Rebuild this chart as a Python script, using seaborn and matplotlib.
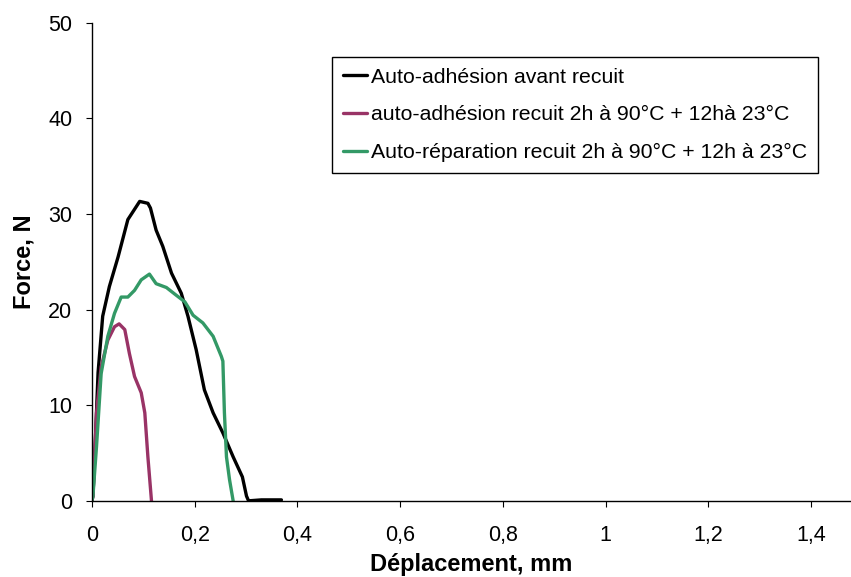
import pandas as pd
import numpy as np
import matplotlib.pyplot as plt
import seaborn as sns

# Courbes force / déplacement
x_avant = [0.0, 0.002, 0.005, 0.012, 0.021, 0.034, 0.051, 0.070, 0.093, 0.109, 0.114,
           0.125, 0.138, 0.155, 0.174, 0.187, 0.203, 0.219, 0.236, 0.255, 0.275,
           0.293, 0.301, 0.305, 0.330, 0.369]
f_avant = [0.0, 0.5, 4.0, 13.4, 19.3, 22.4, 25.5, 29.4, 31.3, 31.1, 30.6,
           28.3, 26.6, 23.8, 21.7, 19.3, 15.8, 11.6, 9.2, 7.1, 4.6,
           2.5, 0.5, 0.0, 0.1, 0.1]

x_recuit = [0.0, 0.002, 0.009, 0.018, 0.031, 0.044, 0.053, 0.064, 0.073, 0.083,
            0.096, 0.103, 0.109, 0.116]
f_recuit = [0.0, 0.5, 9.2, 14.0, 16.8, 18.2, 18.5, 17.9, 15.4, 13.0,
            11.3, 9.2, 4.6, 0.0]

x_repar = [0.0, 0.002, 0.009, 0.018, 0.031, 0.044, 0.057, 0.070, 0.083, 0.096,
           0.112, 0.125, 0.145, 0.164, 0.181, 0.197, 0.216, 0.236, 0.252, 0.255,
           0.258, 0.262, 0.268, 0.275]
f_repar = [0.0, 0.5, 5.7, 13.3, 17.2, 19.6, 21.3, 21.3, 22.0, 23.1,
           23.7, 22.7, 22.3, 21.5, 20.8, 19.4, 18.6, 17.2, 15.1, 14.6,
           9.2, 4.6, 2.2, 0.0]

series = ['Auto-adhésion avant recuit',
          'auto-adhésion recuit 2h à 90°C + 12hà 23°C',
          'Auto-réparation recuit 2h à 90°C + 12h à 23°C']
colors = ['#000000', '#993366', '#339966']

x_ticks = [0, 0.2, 0.4, 0.6, 0.8, 1.0, 1.2, 1.4]
x_labels = ['0', '0,2', '0,4', '0,6', '0,8', '1', '1,2', '1,4']
y_ticks = [0, 10, 20, 30, 40, 50]

df = pd.concat([
    pd.DataFrame({'x': x_avant, 'f': f_avant, 'serie': series[0]}),
    pd.DataFrame({'x': x_recuit, 'f': f_recuit, 'serie': series[1]}),
    pd.DataFrame({'x': x_repar, 'f': f_repar, 'serie': series[2]}),
], ignore_index=True)

sns.set_style('ticks')
plt.rcParams['font.family'] = ['Liberation Sans', 'DejaVu Sans']
plt.rcParams['text.color'] = 'black'
plt.rcParams['axes.labelcolor'] = 'black'

fig = plt.figure(figsize=(8.51, 5.77), dpi=100)
ax = fig.add_axes([0.108, 0.132, 0.892, 0.829])

sns.lineplot(data=df, x='x', y='f', hue='serie', hue_order=series,
             palette=dict(zip(series, colors)), sort=False, estimator=None,
             linewidth=2.4, ax=ax)

ax.set_xlim(0, 1.478)
ax.set_ylim(0, 50)
ax.set_xticks(x_ticks)
ax.set_xticklabels(x_labels)
ax.set_yticks(y_ticks)
ax.tick_params(labelsize=15.5, length=4.5, width=0.8, colors='black')
ax.tick_params(axis='x', pad=13)
ax.tick_params(axis='y', pad=9.5)
ax.set_xlabel('Déplacement, mm', fontsize=17, fontweight='bold', labelpad=5)
ax.set_ylabel('Force, N', fontsize=17, fontweight='bold', labelpad=9)

for side in ['top', 'right']:
    ax.spines[side].set_visible(False)
for side in ['left', 'bottom']:
    ax.spines[side].set_color('black')
    ax.spines[side].set_linewidth(1.0)

leg = ax.legend(loc='upper left', bbox_to_anchor=(332 / 851, 1 - 57 / 577),
                bbox_transform=fig.transFigure, fontsize=15.3, frameon=True,
                fancybox=False, edgecolor='black', framealpha=1,
                handlelength=1.15, handletextpad=0.2, labelspacing=0.88,
                borderpad=0.5, borderaxespad=0)
leg.get_frame().set_linewidth(1.0)
for line in leg.get_lines():
    line.set_linewidth(2.4)

plt.savefig('out.png', dpi=100)
plt.close()
